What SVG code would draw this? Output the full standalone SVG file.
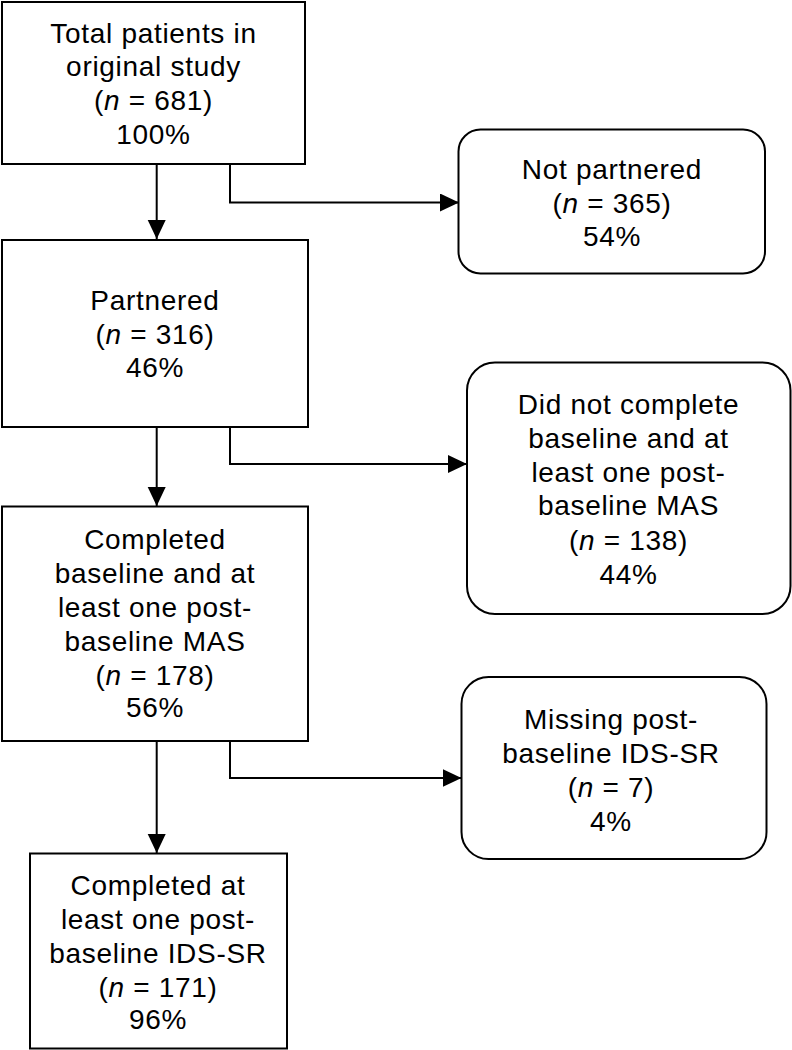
<svg xmlns="http://www.w3.org/2000/svg" width="792" height="1050" viewBox="0 0 792 1050">
<style>
.box{fill:#fff;stroke:#000;stroke-width:2}
.t{font-family:"Liberation Sans",Arial,sans-serif;font-size:28px;letter-spacing:0.7px;text-anchor:middle;fill:#000}
.i{font-style:italic}
.c{fill:none;stroke:#000;stroke-width:2}
</style>
<defs>
<marker id="ah" markerUnits="userSpaceOnUse" markerWidth="20" markerHeight="19" refX="19" refY="9" orient="auto">
<path d="M0,0 L19,9 L0,18 z" fill="#000"/>
</marker>
</defs>
<rect width="792" height="1050" fill="#fff"/>
<g id="connectors">
<path class="c" d="M156.7,164 V239" marker-end="url(#ah)"/>
<path class="c" d="M230,164 V202.5 H459" marker-end="url(#ah)"/>
<path class="c" d="M156.7,427 V506" marker-end="url(#ah)"/>
<path class="c" d="M230,427 V464 H467" marker-end="url(#ah)"/>
<path class="c" d="M156.7,741 V853" marker-end="url(#ah)"/>
<path class="c" d="M230,741 V778 H461.5" marker-end="url(#ah)"/>
</g>
<g id="total">
<rect class="box" x="2" y="2" width="303" height="162"/>
<text class="t" x="153.5" y="43">Total patients in</text>
<text class="t" x="153.5" y="76">original study</text>
<text class="t" x="153.5" y="110">(<tspan class="i">n</tspan> = 681)</text>
<text class="t" x="153.5" y="144">100%</text>
</g>
<g id="notpartnered">
<rect class="box" x="458.5" y="129.5" width="306.5" height="144" rx="22"/>
<text class="t" x="612" y="178.5">Not partnered</text>
<text class="t" x="612" y="212.5">(<tspan class="i">n</tspan> = 365)</text>
<text class="t" x="612" y="246">54%</text>
</g>
<g id="partnered">
<rect class="box" x="2" y="240" width="306" height="187"/>
<text class="t" x="155" y="310">Partnered</text>
<text class="t" x="155" y="343.5">(<tspan class="i">n</tspan> = 316)</text>
<text class="t" x="155" y="377">46%</text>
</g>
<g id="didnotcomplete">
<rect class="box" x="467" y="362.5" width="323.5" height="251.5" rx="28"/>
<text class="t" x="628.5" y="413.5">Did not complete</text>
<text class="t" x="628.5" y="448">baseline and at</text>
<text class="t" x="628.5" y="481.5">least one post-</text>
<text class="t" x="628.5" y="515">baseline MAS</text>
<text class="t" x="628.5" y="549.5">(<tspan class="i">n</tspan> = 138)</text>
<text class="t" x="628.5" y="583.5">44%</text>
</g>
<g id="completedmas">
<rect class="box" x="2" y="506.5" width="306" height="234.5"/>
<text class="t" x="155" y="548.5">Completed</text>
<text class="t" x="155" y="583">baseline and at</text>
<text class="t" x="155" y="616.5">least one post-</text>
<text class="t" x="155" y="650.5">baseline MAS</text>
<text class="t" x="155" y="684.5">(<tspan class="i">n</tspan> = 178)</text>
<text class="t" x="155" y="716.5">56%</text>
</g>
<g id="missing">
<rect class="box" x="461.5" y="677" width="305" height="182" rx="27"/>
<text class="t" x="611" y="728.5">Missing post-</text>
<text class="t" x="611" y="763">baseline IDS-SR</text>
<text class="t" x="611" y="796.5">(<tspan class="i">n</tspan> = 7)</text>
<text class="t" x="611" y="831">4%</text>
</g>
<g id="completedids">
<rect class="box" x="30" y="853.5" width="257" height="195"/>
<text class="t" x="158" y="895">Completed at</text>
<text class="t" x="158" y="929">least one post-</text>
<text class="t" x="158" y="962.5">baseline IDS-SR</text>
<text class="t" x="158" y="996.5">(<tspan class="i">n</tspan> = 171)</text>
<text class="t" x="158" y="1029">96%</text>
</g>
</svg>
